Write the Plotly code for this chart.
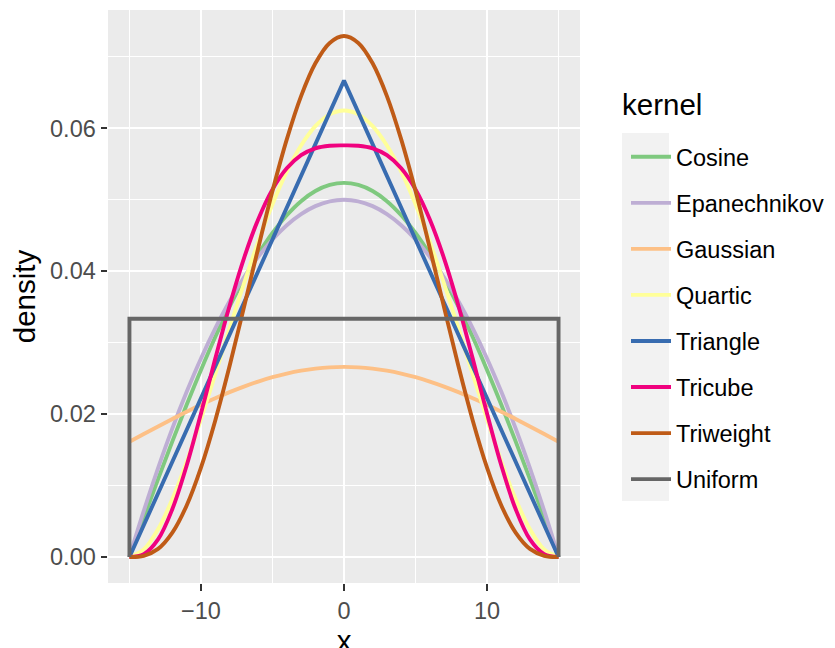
import plotly.graph_objects as go

x_grid = [-15, -14, -13, -12, -11, -10, -9, -8, -7, -6, -5, -4, -3, -2, -1, 0,
          1, 2, 3, 4, 5, 6, 7, 8, 9, 10, 11, 12, 13, 14, 15]

cosine = [0.0, 0.00547, 0.01089, 0.01618, 0.02130, 0.02618, 0.03078, 0.03504, 0.03891, 0.04236,
          0.04534, 0.04783, 0.04980, 0.05122, 0.05207, 0.05236, 0.05207, 0.05122, 0.04980, 0.04783,
          0.04534, 0.04236, 0.03891, 0.03504, 0.03078, 0.02618, 0.02130, 0.01618, 0.01089, 0.00547, 0.0]
epanechnikov = [0.0, 0.00644, 0.01244, 0.018, 0.02311, 0.02778, 0.032, 0.03578, 0.03911, 0.042,
                0.04444, 0.04644, 0.048, 0.04911, 0.04978, 0.05, 0.04978, 0.04911, 0.048, 0.04644,
                0.04444, 0.042, 0.03911, 0.03578, 0.032, 0.02778, 0.02311, 0.018, 0.01244, 0.00644, 0.0]
gaussian = [0.01613, 0.01721, 0.01827, 0.01931, 0.02033, 0.02130, 0.02222, 0.02307, 0.02385, 0.02455,
            0.02516, 0.02567, 0.02607, 0.02636, 0.02654, 0.02660, 0.02654, 0.02636, 0.02607, 0.02567,
            0.02516, 0.02455, 0.02385, 0.02307, 0.02222, 0.02130, 0.02033, 0.01931, 0.01827, 0.01721, 0.01613]
quartic = [0.0, 0.00104, 0.00387, 0.0081, 0.01335, 0.01929, 0.0256, 0.032, 0.03824, 0.0441,
           0.04938, 0.05393, 0.0576, 0.0603, 0.06195, 0.0625, 0.06195, 0.0603, 0.0576, 0.05393,
           0.04938, 0.0441, 0.03824, 0.032, 0.0256, 0.01929, 0.01335, 0.0081, 0.00387, 0.00104, 0.0]
tricube = [0.0, 0.00038, 0.00245, 0.0067, 0.0128, 0.02008, 0.02776, 0.03517, 0.04177, 0.04724,
           0.05145, 0.0544, 0.05624, 0.0572, 0.05756, 0.05761, 0.05756, 0.0572, 0.05624, 0.0544,
           0.05145, 0.04724, 0.04177, 0.03517, 0.02776, 0.02008, 0.0128, 0.0067, 0.00245, 0.00038, 0.0]
triweight = [0.0, 0.00016, 0.00112, 0.0034, 0.0072, 0.0125, 0.01911, 0.02672, 0.0349, 0.04322,
             0.05121, 0.05844, 0.06451, 0.0691, 0.07195, 0.07292, 0.07195, 0.0691, 0.06451, 0.05844,
             0.05121, 0.04322, 0.0349, 0.02672, 0.01911, 0.0125, 0.0072, 0.0034, 0.00112, 0.00016, 0.0]
triangle_x = [-15, 0, 15]
triangle = [0.0, 0.06667, 0.0]
uniform_x = [-15, -15, 15, 15]
uniform = [0.0, 0.03333, 0.03333, 0.0]

kernels = ["Cosine", "Epanechnikov", "Gaussian", "Quartic", "Triangle", "Tricube", "Triweight", "Uniform"]
colors = ["#7FC97F", "#BEAED4", "#FDC086", "#FFFF99", "#386CB0", "#F0027F", "#BF5B17", "#666666"]

x_ticks = [-10, 0, 10]
x_tick_labels = ["\u221210", "0", "10"]
y_ticks = [0, 0.02, 0.04, 0.06]
y_tick_labels = ["0.00", "0.02", "0.04", "0.06"]

series = [
    (x_grid, cosine, "spline"),
    (x_grid, epanechnikov, "spline"),
    (x_grid, gaussian, "spline"),
    (x_grid, quartic, "spline"),
    (triangle_x, triangle, "linear"),
    (x_grid, tricube, "spline"),
    (x_grid, triweight, "spline"),
    (uniform_x, uniform, "linear"),
]

FONT = "Liberation Sans, Arial, Helvetica, sans-serif"
TICK_SIZE = 23.5
TITLE_SIZE = 29.5

fig = go.Figure()
for name, col, (xs, ys, shp) in zip(kernels, colors, series):
    fig.add_trace(go.Scatter(
        x=xs, y=ys, mode="lines", name=name, legendgroup=name,
        line=dict(color=col, width=3.9, shape=shp),
    ))

# page body has an 8px margin; the figure extends a little below the window
W, H = 827, 670
L, T = 100, 2
pw, ph = 472, 573
R = W - L - pw
B = H - T - ph
OFF = 8

def sx(p):  # screen x -> paper
    return (p - OFF - L) / pw

def sy(p):  # screen y -> paper
    return (OFF + T + ph - p) / ph

fig.update_layout(
    width=W, height=H,
    margin=dict(l=L, r=R, t=T, b=B, pad=0, autoexpand=False),
    paper_bgcolor="white",
    plot_bgcolor="#EBEBEB",
    font=dict(family=FONT, size=TICK_SIZE, color="#4D4D4D"),
    showlegend=True,
    legend=dict(
        x=sx(626), xanchor="left",
        y=sy(135), yanchor="top",
        bgcolor="rgba(0,0,0,0)",
        font=dict(family=FONT, size=TICK_SIZE, color="black"),
        tracegroupgap=12.5,
        itemwidth=40,
    ),
    xaxis=dict(
        range=[-16.5, 16.5],
        tickvals=x_ticks,
        ticktext=x_tick_labels,
        showgrid=True, gridcolor="white", gridwidth=1.8,
        zeroline=False, automargin=False,
        ticks="outside", ticklen=6.5, tickwidth=2, tickcolor="#333333",
        tickfont=dict(family=FONT, size=TICK_SIZE, color="#4D4D4D"),
        title=dict(text="x", font=dict(family=FONT, size=TITLE_SIZE, color="black"), standoff=0),
        minor=dict(tickvals=[-15, -5, 5, 15], showgrid=True, gridcolor="white", gridwidth=0.9, ticks=""),
        showline=False,
    ),
    yaxis=dict(
        range=[-0.00365, 0.07656],
        tickvals=y_ticks,
        ticktext=y_tick_labels,
        showgrid=True, gridcolor="white", gridwidth=1.8,
        zeroline=False, automargin=False,
        ticks="outside", ticklen=6.5, tickwidth=2, tickcolor="#333333",
        tickfont=dict(family=FONT, size=TICK_SIZE, color="#4D4D4D"),
        title=dict(text="density", font=dict(family=FONT, size=TITLE_SIZE, color="black"), standoff=8),
        minor=dict(tickvals=[0.01, 0.03, 0.05, 0.07], showgrid=True, gridcolor="white", gridwidth=0.9, ticks=""),
        showline=False,
    ),
    shapes=[dict(
        type="rect", xref="paper", yref="paper",
        x0=sx(622), x1=sx(669),
        y0=sy(501), y1=sy(133),
        fillcolor="#F2F2F2", line=dict(width=0), layer="below",
    )],
    annotations=[dict(
        text="kernel", xref="paper", yref="paper",
        x=sx(620), y=sy(104),
        xanchor="left", yanchor="middle", showarrow=False,
        font=dict(family=FONT, size=TITLE_SIZE, color="black"),
    )],
)

fig.write_html("out.html")
